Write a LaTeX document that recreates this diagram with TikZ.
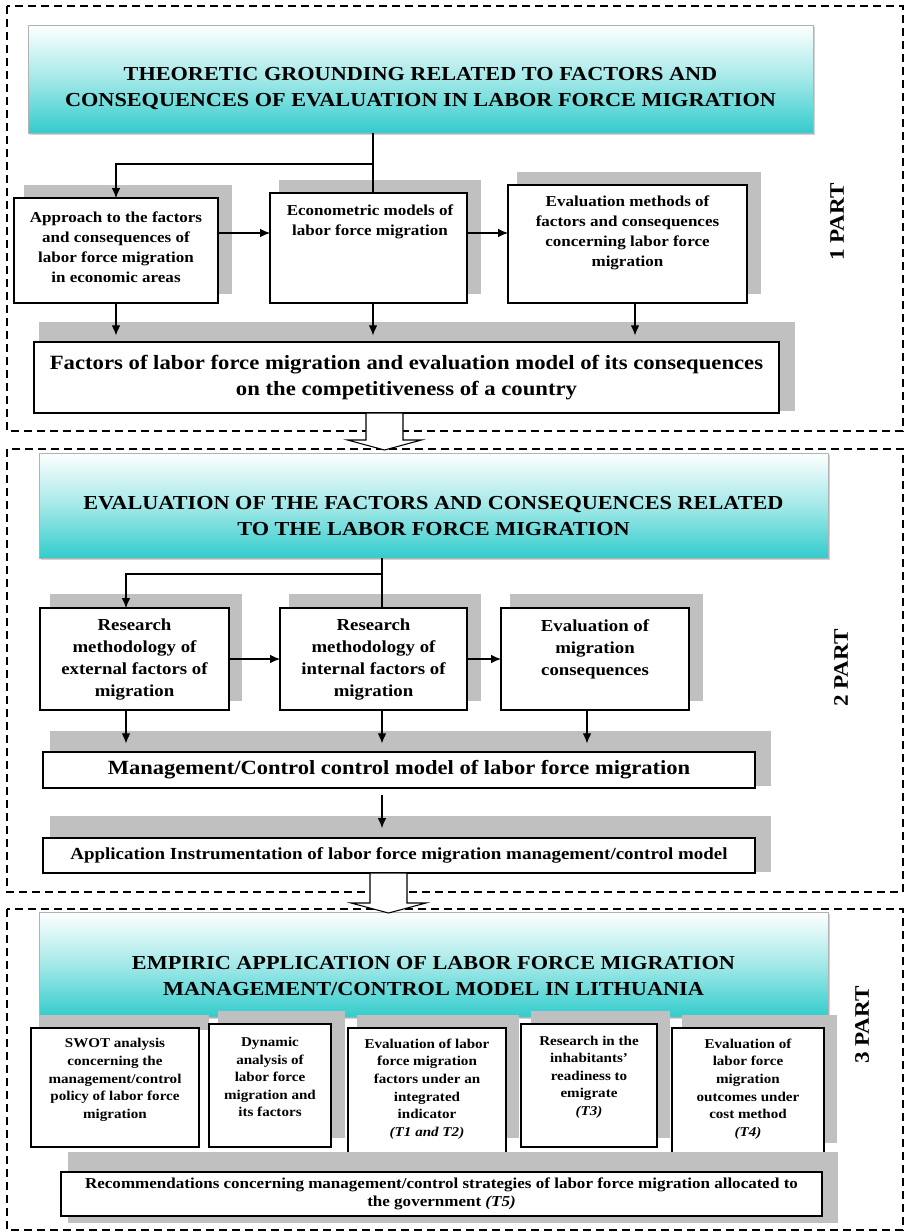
\documentclass[tikz,border=0pt]{standalone}
\usepackage{fontspec}
\setmainfont[FakeStretch=1.12]{Liberation Serif}
\usetikzlibrary{calc,arrows.meta,shadows}
\definecolor{hteal}{RGB}{51,204,204}
\definecolor{shgray}{RGB}{192,192,192}
\begin{document}
\begin{tikzpicture}[x=0.75pt,y=-0.75pt,
  frame/.style={draw=black, line width=1.1pt, dash pattern=on 6pt off 3.75pt},
  hdr/.style={draw=gray!60, line width=0.5pt, top color=white, bottom color=hteal, middle color=hteal!45, inner sep=0pt, outer sep=0pt,
    drop shadow={shadow xshift=1.5pt, shadow yshift=-1.5pt, opacity=0.35, fill=gray}},
  sz/.style 2 args={minimum width={#1*0.75pt}, minimum height={#2*0.75pt}},
  box/.style={draw=black, line width=0.9pt, fill=white, inner sep=0pt, outer sep=0pt, align=center},
  shd/.style={fill=shgray},
  hdrtxt/.style={font=\fontsize{14.9}{19.5}\selectfont\bfseries, align=center, inner sep=0pt},
  txa/.style={font=\fontsize{11.4}{15}\selectfont\bfseries, align=center, inner sep=0pt},
  txb/.style={font=\fontsize{12.6}{16.5}\selectfont\bfseries, align=center, inner sep=0pt},
  txc/.style={font=\fontsize{10.1}{13.2}\selectfont\bfseries, align=center, inner sep=0pt},
  ftx/.style={font=\fontsize{15.2}{20}\selectfont\bfseries},
  mtx/.style={font=\fontsize{15.1}{19}\selectfont\bfseries},
  atx/.style={font=\fontsize{12.7}{15}\selectfont\bfseries},
  rtx/.style={font=\fontsize{11.4}{13.2}\selectfont\bfseries},
  part/.style={font=\fontsize{15.5}{18}\selectfont\bfseries, rotate=90, inner sep=0pt},
  ln/.style={draw=black, line width=0.8pt},
  arr/.style={ln, -{Latex[length=7.5pt,width=6.5pt]}},
  blockarr/.style={draw=black, line width=0.8pt, fill=white, line join=miter}
]
\useasboundingbox (0,0) rectangle (906,1232);

% ---------- frames ----------
\draw[frame] (7,6) rectangle (903,431);
\draw[frame] (7,449) rectangle (903,892);
\draw[frame] (7,909) rectangle (903,1230);

% ---------- PART 1 ----------
\node[hdr, sz={785}{108}] (h1) at (420.5,79) {};
\node[hdrtxt] (h1t) at (420.5,89) {THEORETIC GROUNDING RELATED TO FACTORS AND\\CONSEQUENCES OF EVALUATION IN LABOR FORCE MIGRATION};

\fill[shd] (24,185) rectangle (232,294);
\fill[shd] (279,180) rectangle (481,294);
\fill[shd] (517,172) rectangle (761,294);
\node[box, sz={204}{105}] (b11) at (116,250.5) {};
\node[box, sz={197}{110}] (b12) at (368.5,248) {};
\node[box, sz={239}{118}] (b13) at (627.5,244) {};
\node[txa] (t11) at (116,247) {Approach to the factors\\and consequences of\\labor force migration\\in economic areas};
\node[txa] (t12) at (370,222) {Econometric models of\\labor force migration};
\node[txa] (t13) at (627.5,233) {Evaluation methods of\\factors and consequences\\concerning labor force\\migration};

\fill[shd] (39,322) rectangle (795,411);
\node[box, sz={745}{71}, ftx] (f1) at (406.5,377.5) {Factors of labor force migration and evaluation model of its consequences\\on the competitiveness of a country};

\node[part] (p1) at (837,222) {1 PART};

\coordinate (j1) at (373,164);
\coordinate (r1) at (0,233);
\coordinate (d13) at (635,0);
\draw[ln] (j1 |- h1.south) -- (j1 |- b12.north);
\draw[arr] (j1) -- (j1 -| b11.north) -- (b11.north);
\draw[arr] (b11.east |- r1) -- (b12.west |- r1);
\draw[arr] (b12.east |- r1) -- (b13.west |- r1);
\draw[arr, shorten >=5pt] (b11.south) -- (b11.south |- f1.north);
\draw[arr, shorten >=5pt] (j1 |- b12.south) -- (j1 |- f1.north);
\draw[arr, shorten >=5pt] (d13 |- b13.south) -- (d13 |- f1.north);

% ---------- PART 2 ----------
\node[hdr, sz={789}{105}] (h2) at (433.5,505.5) {};
\node[hdrtxt] (h2t) at (433.5,516) {EVALUATION OF THE FACTORS AND CONSEQUENCES RELATED\\TO THE LABOR FORCE MIGRATION};

\fill[shd] (50,594) rectangle (242,701);
\fill[shd] (289,594) rectangle (481,701);
\fill[shd] (510,594) rectangle (703,701);
\node[box, sz={189}{102}] (b21) at (134.5,659) {};
\node[box, sz={187}{102}] (b22) at (373.5,659) {};
\node[box, sz={188}{102}] (b23) at (595,659) {};
\node[txb] (t21) at (134.5,660) {Research\\methodology of\\external factors of\\migration};
\node[txb] (t22) at (373.5,660) {Research\\methodology of\\internal factors of\\migration};
\node[txb] (t23) at (595,649) {Evaluation of\\migration\\consequences};

\fill[shd] (50,731) rectangle (771,786);
\node[box, sz={712}{36}, mtx] (m2) at (399,770) {Management/Control control model of labor force migration};
\fill[shd] (50,816) rectangle (771,872);
\node[box, sz={712}{35}, atx] (a2) at (399,855.5) {Application Instrumentation of labor force migration management/control model};

\node[part] (p2) at (841,668) {2 PART};

\coordinate (j2) at (382,574);
\coordinate (d21) at (126,0);
\coordinate (d23) at (587,0);
\coordinate (r2) at (0,659);
\draw[ln] (j2 |- h2.south) -- (j2 |- b22.north);
\draw[arr] (j2) -- (j2 -| d21) -- (d21 |- b21.north);
\draw[arr] (b21.east |- r2) -- (b22.west |- r2);
\draw[arr] (b22.east |- r2) -- (b23.west |- r2);
\draw[arr, shorten >=6.5pt] (d21 |- b21.south) -- (d21 |- m2.north);
\draw[arr, shorten >=6.5pt] (j2 |- b22.south) -- (j2 |- m2.north);
\draw[arr, shorten >=6.5pt] (d23 |- b23.south) -- (d23 |- m2.north);
\draw[arr, shorten <=5pt, shorten >=7.5pt] (j2 |- m2.south) -- (j2 |- a2.north);

% ---------- PART 3 ----------
\node[hdr, sz={789}{105}] (h3) at (433.5,964.5) {};
\node[hdrtxt] (h3t) at (433.5,976) {EMPIRIC APPLICATION OF LABOR FORCE MIGRATION\\MANAGEMENT/CONTROL MODEL IN LITHUANIA};

\fill[shd] (39,1015) rectangle (209,1030);
\fill[shd] (218,1011) rectangle (345,1138);
\fill[shd] (357,1015) rectangle (519,1138);
\fill[shd] (531,1011) rectangle (670,1138);
\fill[shd] (682,1015) rectangle (837,1143);
\node[box, sz={168}{119}] (c1) at (115,1087.5) {};
\node[box, sz={122}{123}] (c2) at (270,1085.5) {};
\node[box, sz={158}{132}] (c3) at (427,1094) {};
\node[box, sz={136}{123}] (c4) at (589,1085.5) {};
\node[box, sz={152}{132}] (c5) at (748,1094) {};
\node[txc] (tc1) at (115,1080) {SWOT analysis\\concerning the\\management/control\\policy of labor force\\migration};
\node[txc] (tc2) at (270,1077) {Dynamic\\analysis of\\labor force\\migration and\\its factors};
\node[txc] (tc3) at (427,1089) {Evaluation of labor\\force migration\\factors under an\\integrated\\indicator\\\textit{(T1 and T2)}};
\node[txc] (tc4) at (589,1077) {Research in the\\inhabitants’\\readiness to\\emigrate\\\textit{(T3)}};
\node[txc] (tc5) at (748,1089) {Evaluation of\\labor force\\migration\\outcomes under\\cost method\\\textit{(T4)}};

\fill[shd] (68,1152) rectangle (838,1223);
\node[box, sz={761}{44}, rtx] (r3) at (441.5,1194) {Recommendations concerning management/control strategies of labor force migration allocated to\\the government \textit{(T5)}};

\node[part] (p3) at (862,1025) {3 PART};

% ---------- block arrows between parts ----------
\coordinate (ba1) at ($(f1.south)+(-22,0)$);
\coordinate (ba2) at ($(a2.south)+(-10.5,0)$);
\draw[blockarr, shift={(ba1)}] (-18.5,0) -- (-18.5,27) -- (-37,27) -- (0,37) -- (37,27) -- (18.5,27) -- (18.5,0) -- cycle;
\draw[blockarr, shift={(ba2)}] (-18.5,0) -- (-18.5,30) -- (-37.5,30) -- (0,40) -- (37.5,30) -- (18.5,30) -- (18.5,0) -- cycle;
\end{tikzpicture}
\end{document}
